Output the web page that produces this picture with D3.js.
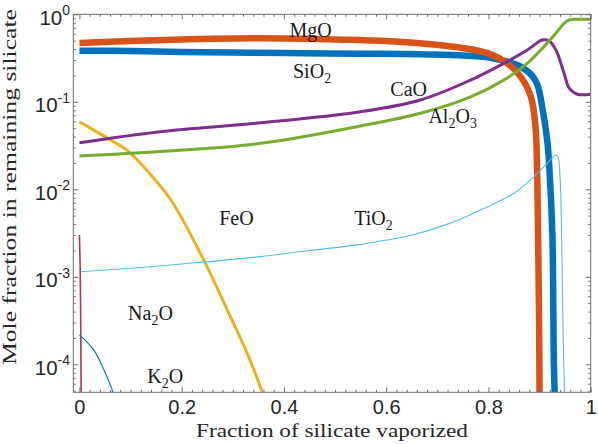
<!DOCTYPE html>
<html><head><meta charset="utf-8">
<script src="https://cdn.jsdelivr.net/npm/d3@7"></script>
<style>body{margin:0;background:#fff}svg{display:block}</style>
</head><body>
<svg id="c" width="598" height="444"></svg>
<script>
// ---- data (x = fraction vaporized, y = mole fraction) ----
const xTicks = [0, 0.2, 0.4, 0.6, 0.8, 1];
const xTickLabels = ["0", "0.2", "0.4", "0.6", "0.8", "1"];
const yTicks = [1e-4, 1e-3, 1e-2, 1e-1, 1];
const yTickExponents = ["-4", "-3", "-2", "-1", "0"];

const sio2 = [[0,0.384],[0.1,0.38],[0.2,0.37],[0.3,0.365],[0.4,0.36],[0.55,0.355],[0.667,0.35],[0.798,0.323],[0.837,0.287],[0.863,0.252],[0.887,0.194],[0.897,0.149],[0.906,0.081],[0.915,0.036],[0.919,0.018],[0.925,0.0031],[0.928,1e-4],[0.93,4e-5]];
const mgo = [[0,0.47],[0.1,0.495],[0.2,0.515],[0.3,0.53],[0.4,0.53],[0.5,0.515],[0.6,0.495],[0.667,0.466],[0.74,0.42],[0.8,0.358],[0.837,0.275],[0.863,0.194],[0.883,0.114],[0.892,0.052],[0.895,0.018],[0.897,0.0032],[0.899,3e-4],[0.9,4e-5]];
const feo = [[0,0.059],[0.061,0.0366],[0.093,0.028],[0.126,0.018],[0.178,0.0077],[0.243,0.00156],[0.289,4.2e-4],[0.328,1.34e-4],[0.354,5.5e-5],[0.362,4e-5]];
const cao = [[0,0.034],[0.158,0.0455],[0.354,0.0575],[0.55,0.077],[0.667,0.105],[0.765,0.177],[0.83,0.275],[0.876,0.39],[0.905,0.508],[0.918,0.50],[0.932,0.39],[0.948,0.211],[0.958,0.143],[0.974,0.122],[1,0.122]];
const al2o3 = [[0,0.024],[0.158,0.027],[0.354,0.0335],[0.55,0.053],[0.667,0.074],[0.765,0.114],[0.83,0.177],[0.876,0.275],[0.909,0.43],[0.932,0.606],[0.948,0.789],[0.958,0.86],[0.974,0.877],[1,0.877]];
const tio2 = [[0,1.14e-3],[0.1,1.25e-3],[0.2,1.4e-3],[0.354,1.7e-3],[0.45,2.0e-3],[0.55,2.35e-3],[0.65,3.0e-3],[0.72,4.0e-3],[0.785,5.8e-3],[0.85,9.0e-3],[0.889,0.0139],[0.915,0.0198],[0.932,0.0247],[0.936,0.0236],[0.94,0.0139],[0.943,0.0032],[0.946,2.3e-4],[0.949,4e-5]];
const na2o = [[0,3e-3],[0.0015,1.2e-3],[0.0025,3e-4],[0.003,1e-4],[0.0033,4e-5]];
const k2o = [[0,2.17e-4],[0.028,1.46e-4],[0.048,8.6e-5],[0.064,5.1e-5],[0.068,4.3e-5]];

const seriesNames = ["SiO2","MgO","FeO","CaO","Al2O3","TiO2","Na2O","K2O"];
const seriesData = [sio2, mgo, feo, cao, al2o3, tio2, na2o, k2o];
const seriesColors = ["#0072BD","#D95319","#EDB120","#7E2F8E","#77AC30","#4DBEEE","#B5334F","#0072BD"];
const seriesWidths = [6.5, 6.5, 3, 3, 3, 1.1, 1.6, 1.1];

// curve labels: text parts [normal, subscript], anchored in data coords
const labelParts = [
  [["Si",""],["O",""],["","2"]],
  [["MgO",""]],
  [["FeO",""]],
  [["CaO",""]],
  [["Al",""],["","2"],["O",""],["","3"]],
  [["TiO",""],["","2"]],
  [["Na",""],["","2"],["O",""]],
  [["K",""],["","2"],["O",""]]
];
const labelX = [0.455, 0.452, 0.307, 0.644, 0.730, 0.575, 0.139, 0.168];
const labelY = [0.187, 0.55, 3.9e-3, 0.117, 0.057, 3.9e-3, 3.2e-4, 6.1e-5];

// ---- layout ----
const svg = d3.select("#c");
const L = 73.3, R = 590.7, T = 14.3, B = 392.3;
const x = d3.scaleLinear().domain([-0.012, 1]).range([L, R]);
const y = d3.scaleLog().domain([Math.pow(10, -4.32), 1]).range([B, T]);

svg.append("defs").append("clipPath").attr("id","clip")
  .append("rect").attr("x",L).attr("y",T).attr("width",R-L).attr("height",B-T);

const line = d3.line().x(d => x(d[0])).y(d => y(d[1])).curve(d3.curveCatmullRom.alpha(0.5));
const g = svg.append("g").attr("clip-path","url(#clip)");
seriesData.forEach((s,i) => {
  g.append("path").attr("d", line(s)).attr("fill","none")
   .attr("stroke", seriesColors[i]).attr("stroke-width", seriesWidths[i])
   .attr("stroke-linejoin","round");
});

// ---- axes ----
const axisColor = "#6e6e6e";
const minorX = d3.range(0, 1.0001, 0.02).map(v => +v.toFixed(2)).filter(v => !xTicks.includes(v));
const minorY = [];
for (let e = -5; e < 0; e++) for (let m = 2; m <= 9; m++) { const v = m*Math.pow(10,e); if (v >= y.domain()[0]) minorY.push(v); }

function styleAxis(sel){
  sel.selectAll(".domain").remove();
  sel.selectAll("line").attr("stroke", axisColor).attr("stroke-width", 1);
}
const sans = "Liberation Sans, Arial, sans-serif";
svg.append("g").attr("transform",`translate(0,${B})`).call(d3.axisBottom(x).tickValues(xTicks).tickSize(-5).tickSizeOuter(0).tickFormat((d,i)=>xTickLabels[i]).tickPadding(8)).call(styleAxis)
  .selectAll("text").attr("font-family",sans).attr("font-size",20).attr("fill","#262626");
svg.append("g").attr("transform",`translate(0,${B})`).call(d3.axisBottom(x).tickValues(minorX).tickSize(-2.5).tickSizeOuter(0).tickFormat("")).call(styleAxis);
svg.append("g").attr("transform",`translate(0,${T})`).call(d3.axisTop(x).tickValues(xTicks).tickSize(-5).tickSizeOuter(0).tickFormat("")).call(styleAxis);
svg.append("g").attr("transform",`translate(0,${T})`).call(d3.axisTop(x).tickValues(minorX).tickSize(-2.5).tickSizeOuter(0).tickFormat("")).call(styleAxis);

svg.append("g").attr("transform",`translate(${L},0)`).call(d3.axisLeft(y).tickValues(yTicks).tickSize(-5).tickSizeOuter(0).tickFormat("")).call(styleAxis);
svg.append("g").attr("transform",`translate(${L},0)`).call(d3.axisLeft(y).tickValues(minorY).tickSize(-2.5).tickSizeOuter(0).tickFormat("")).call(styleAxis);
svg.append("g").attr("transform",`translate(${R},0)`).call(d3.axisRight(y).tickValues(yTicks).tickSize(-5).tickSizeOuter(0).tickFormat("")).call(styleAxis);
svg.append("g").attr("transform",`translate(${R},0)`).call(d3.axisRight(y).tickValues(minorY).tickSize(-2.5).tickSizeOuter(0).tickFormat("")).call(styleAxis);

// y tick labels 10^n
yTicks.forEach((v,i) => {
  const t = svg.append("text").attr("x", 70).attr("y", y(v) + 10.5)
    .attr("text-anchor","end").attr("font-family",sans)
    .attr("font-size",20.5).attr("fill","#262626");
  t.append("tspan").text("10");
  t.append("tspan").attr("font-size",14).attr("dy",-9.5).text(yTickExponents[i]);
});

// box
svg.append("rect").attr("x",L).attr("y",T).attr("width",R-L).attr("height",B-T)
  .attr("fill","none").attr("stroke",axisColor).attr("stroke-width",1);

// axis titles
const serif = "Liberation Serif, 'DejaVu Serif', serif";
svg.append("text").attr("x",(L+R)/2).attr("y",437).attr("text-anchor","middle")
  .attr("font-family",serif).attr("font-size",19.5).attr("fill","#262626")
  .attr("textLength",272).attr("lengthAdjust","spacingAndGlyphs").text("Fraction of silicate vaporized");
svg.append("text").attr("transform",`translate(15.5,187) rotate(-90)`).attr("text-anchor","middle")
  .attr("font-family",serif).attr("font-size",18.5).attr("fill","#262626")
  .attr("textLength",356).attr("lengthAdjust","spacingAndGlyphs").text("Mole fraction in remaining silicate");

// curve labels
labelParts.forEach((parts,i) => {
  const t = svg.append("text").attr("x", x(labelX[i])).attr("y", y(labelY[i]))
    .attr("text-anchor","middle").attr("font-family",serif).attr("font-size",20).attr("fill","#1a1a1a");
  let sub = false;
  parts.forEach(p => {
    if (p[0]) { t.append("tspan").attr("dy", sub ? -5 : 0).text(p[0]); sub = false; }
    else { t.append("tspan").attr("font-size",14).attr("dy", sub ? 0 : 5).text(p[1]); sub = true; }
  });
});
</script>
</body></html>
